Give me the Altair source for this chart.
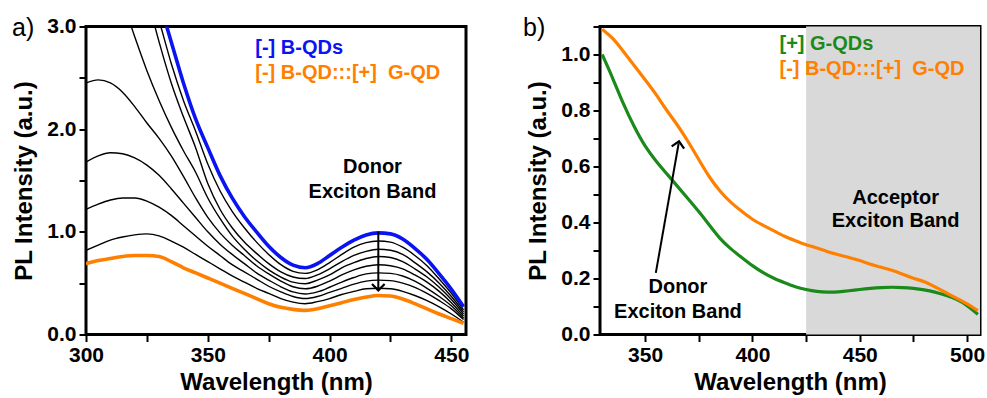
import altair as alt
import pandas as pd

FONT = "Liberation Sans"
BLUE = "#0a14f0"
ORANGE = "#ff8000"
GREEN = "#1a8a1a"
GREY = "#d9d9d9"

# ---------------- panel a: titration series ----------------
wl_a = list(range(300, 456, 5))

blue_a = [None, None, None, None, None, None,
          3.25, 2.85, 2.45, 2.10, 1.82, 1.55, 1.33, 1.15, 1.00, 0.86, 0.75, 0.675,
          0.65, 0.69, 0.77, 0.85, 0.92, 0.97, 0.99, 0.98, 0.93, 0.84, 0.73, 0.59, 0.44, 0.27]
k1_a = [None, None, None, None, None,
        3.45, 3.06, 2.64, 2.28, 1.98, 1.66, 1.40, 1.20, 1.04, 0.90, 0.78, 0.68, 0.615,
        0.595, 0.63, 0.70, 0.78, 0.85, 0.895, 0.91, 0.90, 0.85, 0.77, 0.67, 0.54, 0.40, 0.24]
k2_a = [None, None, None, None, None,
        3.30, 2.85, 2.45, 2.12, 1.82, 1.47, 1.22, 1.04, 0.90, 0.79, 0.69, 0.61, 0.56,
        0.545, 0.58, 0.64, 0.71, 0.77, 0.81, 0.83, 0.82, 0.78, 0.70, 0.61, 0.50, 0.37, 0.22]
k3_a = [None, None, None,
        3.25, 2.90, 2.57, 2.28, 2.02, 1.79, 1.58, 1.33, 1.13, 0.96, 0.83, 0.72, 0.63, 0.56, 0.51,
        0.495, 0.53, 0.58, 0.65, 0.70, 0.74, 0.76, 0.75, 0.71, 0.64, 0.56, 0.46, 0.34, 0.20]
k4_a = [2.45, 2.48, 2.45, 2.36, 2.22, 2.06, 1.91, 1.74, 1.54, 1.33, 1.14, 0.99, 0.87, 0.77,
        0.67, 0.59, 0.52, 0.465, 0.445, 0.47, 0.52, 0.58, 0.63, 0.665, 0.68, 0.67, 0.64,
        0.58, 0.51, 0.42, 0.31, 0.18]
k5_a = [1.68, 1.74, 1.77, 1.76, 1.72, 1.65, 1.55, 1.42, 1.28, 1.14, 1.00, 0.88, 0.78, 0.69,
        0.60, 0.53, 0.465, 0.415, 0.395, 0.415, 0.46, 0.51, 0.555, 0.59, 0.60, 0.595, 0.57,
        0.52, 0.45, 0.37, 0.28, 0.16]
k6_a = [1.22, 1.27, 1.31, 1.33, 1.33, 1.30, 1.24, 1.16, 1.06, 0.96, 0.86, 0.77, 0.68, 0.61,
        0.54, 0.47, 0.415, 0.37, 0.35, 0.37, 0.41, 0.45, 0.49, 0.52, 0.53, 0.525, 0.50,
        0.46, 0.40, 0.33, 0.25, 0.145]
k7_a = [0.82, 0.87, 0.92, 0.95, 0.97, 0.98, 0.96, 0.91, 0.85, 0.78, 0.71, 0.64, 0.57, 0.51,
        0.45, 0.40, 0.35, 0.315, 0.30, 0.32, 0.35, 0.39, 0.42, 0.445, 0.45, 0.445, 0.42,
        0.38, 0.33, 0.27, 0.20, 0.12]
orange_a = [0.69, 0.72, 0.74, 0.76, 0.77, 0.77, 0.76, 0.71, 0.65, 0.60, 0.55, 0.50, 0.45, 0.40,
            0.35, 0.30, 0.265, 0.245, 0.235, 0.25, 0.28, 0.31, 0.34, 0.365, 0.38, 0.375, 0.345,
            0.30, 0.25, 0.20, 0.155, 0.11]

x_ticks_a = [300, 325, 350, 375, 400, 425, 450]
y_ticks_a = [0.0, 0.5, 1.0, 1.5, 2.0, 2.5, 3.0]

legend_a = ["[-] B-QDs", "[-] B-QD:::[+]\u00a0 G-QD"]
legend_a_wl = [369.5, 369.5]
legend_a_pl = [2.79, 2.55]

note_a = ["Donor", "Exciton Band"]
note_a_wl = [417.6, 417.6]
note_a_pl = [1.63, 1.385]

arrow_a = {"wl": [420.0], "pl": [1.0], "wl2": [420.0], "pl2": [0.45]}
arrow_a_tip = {"wl": [420.0], "pl": [0.43]}

# ---------------- panel b: donor/acceptor spectra ----------------
wl_b = list(range(330, 506, 5))

green_b = [1.00, 0.915, 0.82, 0.74, 0.67, 0.62, 0.575, 0.53, 0.485, 0.44, 0.39, 0.34, 0.305,
           0.275, 0.245, 0.22, 0.20, 0.185, 0.17, 0.16, 0.153, 0.151, 0.152, 0.156, 0.161,
           0.165, 0.168, 0.169, 0.168, 0.165, 0.16, 0.152, 0.14, 0.127, 0.105, 0.072]
orange_b = [1.09, 1.06, 1.01, 0.96, 0.91, 0.86, 0.80, 0.75, 0.69, 0.625, 0.56, 0.51, 0.47,
            0.44, 0.41, 0.39, 0.37, 0.35, 0.335, 0.32, 0.31, 0.295, 0.285, 0.275, 0.265,
            0.25, 0.24, 0.23, 0.215, 0.20, 0.19, 0.17, 0.15, 0.13, 0.11, 0.085]

x_ticks_b = [350, 375, 400, 425, 450, 475, 500]
y_ticks_b = [0.0, 0.1, 0.2, 0.3, 0.4, 0.5, 0.6, 0.7, 0.8, 0.9, 1.0, 1.1]

band_b = {"wl": [425.0], "wl2": [506.0], "pl": [0.0], "pl2": [1.1]}

legend_b = ["[+] G-QDs", "[-] B-QD:::[+]\u00a0 G-QD"]
legend_b_wl = [412.6, 412.6]
legend_b_pl = [1.039, 0.95]

note_b1 = ["Acceptor", "Exciton Band"]
note_b1_wl = [466.7, 466.7]
note_b1_pl = [0.486, 0.404]

note_b2 = ["Donor", "Exciton Band"]
note_b2_wl = [365.3, 365.3]
note_b2_pl = [0.168, 0.079]

arrow_b = {"wl": [355.0], "pl": [0.22], "wl2": [365.65], "pl2": [0.683]}
arrow_b_tip = {"wl": [365.8], "pl": [0.69]}


def long_frame(wl, series):
    rows = []
    for name, vals in series.items():
        for w, v in zip(wl, vals):
            if v is not None:
                rows.append({"wl": w, "pl": v, "curve": name})
    return pd.DataFrame(rows)


def text_frame(labels, wls, pls):
    return pd.DataFrame({"label": labels, "wl": wls, "pl": pls})


# ---- panel a ----
xa = alt.X("wl:Q", title="Wavelength (nm)",
           scale=alt.Scale(domain=[300, 456], nice=False, zero=False),
           axis=alt.Axis(values=x_ticks_a,
                         labelExpr="datum.value % 50 == 0 ? datum.label : ''"))
ya = alt.Y("pl:Q", title="PL Intensity (a.u.)",
           scale=alt.Scale(domain=[0, 3], nice=False),
           axis=alt.Axis(values=y_ticks_a, format=".1f",
                         labelExpr="datum.value % 1 == 0 ? datum.label : ''"))

black_df = long_frame(wl_a, {"k1": k1_a, "k2": k2_a, "k3": k3_a, "k4": k4_a,
                             "k5": k5_a, "k6": k6_a, "k7": k7_a})
blue_df = long_frame(wl_a, {"blue": blue_a})
orange_df = long_frame(wl_a, {"orange": orange_a})

black_lines = alt.Chart(black_df).mark_line(
    color="black", strokeWidth=1.4, interpolate="monotone", clip=True
).encode(x=xa, y=ya, detail="curve:N")
blue_line = alt.Chart(blue_df).mark_line(
    color=BLUE, strokeWidth=3.6, interpolate="monotone", clip=True
).encode(x=xa, y=ya)
orange_line_a = alt.Chart(orange_df).mark_line(
    color=ORANGE, strokeWidth=3.6, interpolate="monotone", clip=True
).encode(x=xa, y=ya)

leg_a_df = text_frame(legend_a, legend_a_wl, legend_a_pl)
leg_a_blue = alt.Chart(leg_a_df.iloc[[0]]).mark_text(
    align="left", baseline="middle", font=FONT, fontSize=20, fontWeight="bold", color=BLUE
).encode(x=xa, y=ya, text="label:N")
leg_a_orange = alt.Chart(leg_a_df.iloc[[1]]).mark_text(
    align="left", baseline="middle", font=FONT, fontSize=20, fontWeight="bold", color=ORANGE
).encode(x=xa, y=ya, text="label:N")
note_a_text = alt.Chart(text_frame(note_a, note_a_wl, note_a_pl)).mark_text(
    align="center", baseline="middle", font=FONT, fontSize=20, fontWeight="bold", color="black"
).encode(x=xa, y=ya, text="label:N")

arrow_a_shaft = alt.Chart(pd.DataFrame(arrow_a)).mark_rule(
    color="black", strokeWidth=2
).encode(x=xa, y=ya, x2="wl2:Q", y2="pl2:Q")
arrow_a_head = alt.Chart(pd.DataFrame(arrow_a_tip)).mark_point(
    shape="M -1 -1 L 0 0 L 1 -1", filled=False, stroke="black", strokeWidth=2.2,
    size=160, opacity=1
).encode(x=xa, y=ya)

tag_a = alt.Chart(pd.DataFrame({"tag": ["a)"]})).mark_text(
    align="left", baseline="alphabetic", font=FONT, fontSize=25, color="black"
).encode(x=alt.value(-74), y=alt.value(9), text="tag:N")

panel_a = alt.layer(
    black_lines, blue_line, orange_line_a, arrow_a_shaft, arrow_a_head,
    leg_a_blue, leg_a_orange, note_a_text, tag_a
).properties(width=380, height=308)

# ---- panel b ----
xb = alt.X("wl:Q", title="Wavelength (nm)",
           scale=alt.Scale(domain=[329, 506], nice=False, zero=False),
           axis=alt.Axis(values=x_ticks_b,
                         labelExpr="datum.value % 50 == 0 ? datum.label : ''"))
yb = alt.Y("pl:Q", title="PL Intensity (a.u.)",
           scale=alt.Scale(domain=[0, 1.1], nice=False),
           axis=alt.Axis(values=y_ticks_b, format=".1f",
                         labelExpr="round(datum.value * 10) % 2 == 0 ? datum.label : ''"))

band = alt.Chart(pd.DataFrame(band_b)).mark_rect(color=GREY, opacity=1).encode(
    x=xb, x2="wl2:Q", y=yb, y2="pl2:Q")
green_line = alt.Chart(long_frame(wl_b, {"green": green_b})).mark_line(
    color=GREEN, strokeWidth=3.2, interpolate="basis", clip=True
).encode(x=xb, y=yb)
orange_line_b = alt.Chart(long_frame(wl_b, {"orange": orange_b})).mark_line(
    color=ORANGE, strokeWidth=3.2, interpolate="basis", clip=True
).encode(x=xb, y=yb)

leg_b_df = text_frame(legend_b, legend_b_wl, legend_b_pl)
leg_b_green = alt.Chart(leg_b_df.iloc[[0]]).mark_text(
    align="left", baseline="middle", font=FONT, fontSize=20, fontWeight="bold", color=GREEN
).encode(x=xb, y=yb, text="label:N")
leg_b_orange = alt.Chart(leg_b_df.iloc[[1]]).mark_text(
    align="left", baseline="middle", font=FONT, fontSize=20, fontWeight="bold", color=ORANGE
).encode(x=xb, y=yb, text="label:N")
note_b1_text = alt.Chart(text_frame(note_b1, note_b1_wl, note_b1_pl)).mark_text(
    align="center", baseline="middle", font=FONT, fontSize=20, fontWeight="bold", color="black"
).encode(x=xb, y=yb, text="label:N")
note_b2_text = alt.Chart(text_frame(note_b2, note_b2_wl, note_b2_pl)).mark_text(
    align="center", baseline="middle", font=FONT, fontSize=20, fontWeight="bold", color="black"
).encode(x=xb, y=yb, text="label:N")

arrow_b_shaft = alt.Chart(pd.DataFrame(arrow_b)).mark_rule(
    color="black", strokeWidth=2
).encode(x=xb, y=yb, x2="wl2:Q", y2="pl2:Q")
arrow_b_head = alt.Chart(pd.DataFrame(arrow_b_tip)).mark_point(
    shape="M -1 1 L 0 0 L 1 1", filled=False, stroke="black", strokeWidth=2.2,
    size=160, angle=10, opacity=1
).encode(x=xb, y=yb)

tag_b = alt.Chart(pd.DataFrame({"tag": ["b)"]})).mark_text(
    align="left", baseline="alphabetic", font=FONT, fontSize=25, color="black"
).encode(x=alt.value(-77), y=alt.value(9), text="tag:N")

panel_b = alt.layer(
    band, green_line, orange_line_b, arrow_b_shaft, arrow_b_head,
    leg_b_green, leg_b_orange, note_b1_text, note_b2_text, tag_b
).properties(width=380, height=308)

chart = alt.hconcat(panel_a, panel_b, spacing=134, bounds="flush").properties(
    padding={"left": 10, "top": 13.5, "right": 0, "bottom": 0}
).configure_view(
    stroke="black", strokeWidth=3
).configure_axis(
    domain=False, grid=False, ticks=True, tickSize=7, tickWidth=2, tickColor="black",
    labelFont=FONT, labelFontSize=21, labelFontWeight="bold", labelColor="black",
    titleFont=FONT, titleFontSize=24, titleFontWeight="bold", titleColor="black",
    labelFlush=False, labelOverlap=False, labelPadding=3
).configure_axisX(
    titlePadding=5
).configure_axisY(
    titlePadding=10
)

chart.save("out.html", embed_options={"renderer": "svg", "actions": False})
